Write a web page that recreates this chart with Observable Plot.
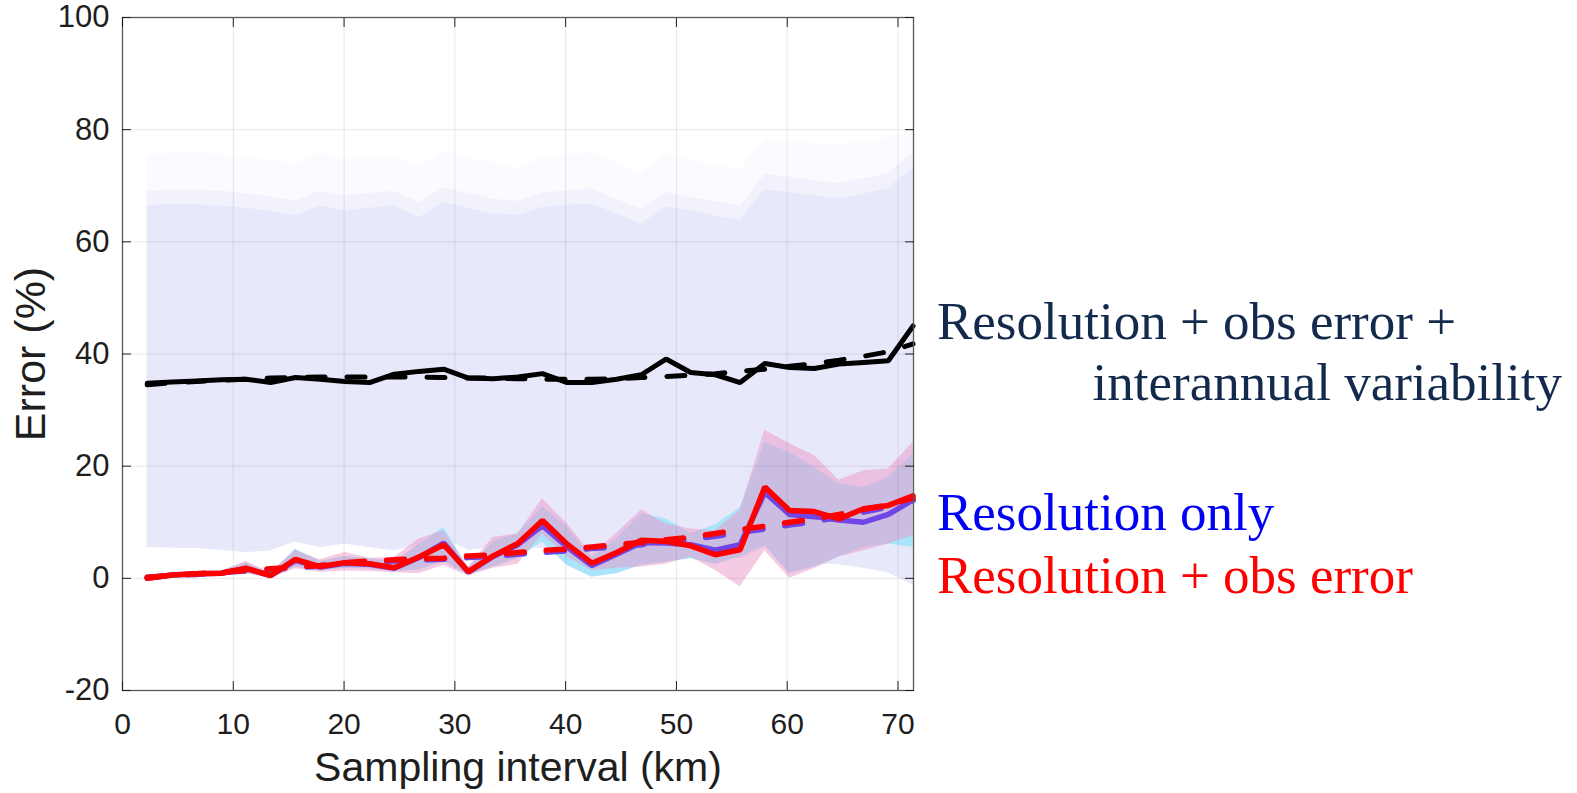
<!DOCTYPE html>
<html><head><meta charset="utf-8">
<script src="https://cdn.jsdelivr.net/npm/d3@7"></script>
<script src="https://cdn.jsdelivr.net/npm/@observablehq/plot@0.6"></script>
<style>
html,body{margin:0;padding:0;background:#fff;}
#wrap{position:relative;width:1577px;height:793px;overflow:hidden;}
.ann{position:absolute;font-family:"Liberation Serif","Times New Roman",serif;font-size:53px;line-height:1;white-space:nowrap;}
</style></head><body>
<div id="wrap"></div>
<script>
// Sampling interval (km)
const interval = [2.23, 4.46, 6.69, 8.92, 11.15, 13.38, 15.61, 17.84, 20.07, 22.3, 24.53, 26.76, 28.99, 31.22, 33.45, 35.68, 37.91, 40.14, 42.37, 44.6, 46.83, 49.06, 51.29, 53.52, 55.75, 57.98, 60.21, 62.44, 64.67, 66.9, 69.13, 71.36];

// Resolution + obs error + interannual variability (black)
const blackSolid  = [34.8, 35.0, 35.2, 35.4, 35.5, 34.9, 35.8, 35.5, 35.1, 34.9, 36.4, 36.9, 37.3, 35.7, 35.6, 35.9, 36.5, 34.9, 34.9, 35.5, 36.3, 39.1, 36.7, 36.3, 34.9, 38.3, 37.6, 37.4, 38.2, 38.5, 38.8, 45.0];
const blackDashed = [34.5, 34.9, 35.1, 35.3, 35.5, 35.7, 35.8, 35.9, 35.9, 35.9, 35.9, 35.9, 35.8, 35.7, 35.7, 35.6, 35.5, 35.5, 35.5, 35.6, 35.8, 36.0, 36.2, 36.5, 36.9, 37.3, 37.8, 38.3, 38.9, 39.6, 40.4, 41.8];
const ivLow   = [5.5, 5.4, 5.3, 5.0, 4.6, 4.9, 6.5, 5.5, 6.1, 5.5, 4.9, 5.8, 7.2, 5.0, 5.5, 5.8, 5.3, 4.0, 2.5, 3.0, 3.8, 4.0, 4.5, 4.8, 3.5, 5.5, 2.7, 2.6, 2.4, 1.8, 1.0, -1.2];
const ivMain  = [66.5, 66.6, 66.6, 66.4, 66.0, 65.4, 64.7, 66.4, 65.5, 66.0, 66.4, 64.3, 67.0, 66.0, 65.0, 64.7, 66.1, 66.5, 66.8, 65.0, 63.2, 66.2, 65.5, 64.6, 63.8, 69.3, 68.8, 68.2, 67.7, 68.5, 69.5, 73.1];
const ivMid   = [69.0, 69.2, 69.2, 69.0, 68.6, 68.0, 67.3, 69.0, 68.2, 68.6, 69.0, 67.0, 69.6, 68.6, 67.6, 67.2, 68.7, 69.1, 69.4, 67.6, 65.8, 68.8, 68.0, 67.2, 66.4, 72.0, 71.5, 70.9, 70.4, 71.2, 72.2, 75.8];
const ivOuter = [75.5, 75.8, 75.9, 75.5, 75.0, 74.5, 73.9, 75.8, 74.8, 74.9, 75.4, 73.3, 76.2, 75.0, 74.0, 73.1, 75.0, 75.5, 75.9, 74.0, 72.2, 75.6, 74.5, 73.5, 72.9, 78.3, 78.0, 77.5, 77.4, 77.8, 78.6, 79.8];

// Resolution only (blue)
const blueSolid  = [0.0, 0.6, 0.8, 0.9, 1.7, 0.5, 3.2, 2.0, 2.7, 2.5, 1.8, 3.7, 6.3, 1.1, 3.9, 6.0, 9.4, 5.6, 2.3, 4.3, 6.4, 6.3, 6.0, 5.0, 6.0, 15.3, 11.4, 11.0, 10.4, 10.0, 11.4, 14.0];
const blueDashed = [0.2, 0.5, 0.7, 1.0, 1.3, 1.6, 1.9, 2.2, 2.6, 2.9, 3.1, 3.3, 3.4, 3.7, 3.9, 4.3, 4.6, 4.9, 5.3, 5.6, 6.0, 6.5, 6.9, 7.5, 8.2, 8.8, 9.5, 10.1, 10.9, 11.8, 12.7, 13.9];
const resLo = [0.0, 0.4, 0.6, 0.7, 1.0, 0.2, 2.0, 1.3, 1.8, 1.6, 1.2, 1.5, 3.0, 0.6, 2.0, 3.5, 6.5, 2.3, 0.2, 0.8, 2.3, 2.9, 3.5, 2.5, 3.8, 5.8, 0.8, 2.0, 3.8, 5.5, 6.1, 5.5];
const resHi = [0.2, 0.8, 1.0, 1.2, 2.8, 0.8, 5.2, 3.0, 3.9, 3.5, 3.0, 6.0, 9.1, 1.8, 6.5, 8.0, 12.8, 9.1, 3.7, 7.0, 11.5, 10.6, 8.0, 9.5, 12.6, 24.2, 22.5, 19.8, 16.8, 16.2, 18.0, 22.2];

// Resolution + obs error (red)
const redSolid  = [0.0, 0.6, 0.8, 0.9, 1.8, 0.5, 3.4, 2.1, 2.8, 2.6, 1.9, 3.8, 6.0, 1.2, 4.0, 6.2, 10.3, 6.1, 2.7, 4.6, 6.8, 6.6, 5.8, 4.2, 5.1, 16.3, 12.1, 11.9, 10.6, 12.4, 13.0, 14.7];
const redDashed = [0.2, 0.5, 0.8, 1.1, 1.4, 1.7, 2.0, 2.3, 2.8, 3.1, 3.3, 3.5, 3.6, 4.0, 4.2, 4.6, 5.0, 5.2, 5.6, 6.0, 6.4, 6.9, 7.3, 8.0, 8.7, 9.3, 10.0, 10.6, 11.4, 12.3, 13.1, 14.3];
const obsLo = [-0.2, 0.3, 0.5, 0.6, 0.8, 0.0, 1.7, 1.1, 1.3, 1.2, 1.0, 0.8, 2.3, 0.4, 1.8, 2.5, 7.9, 3.8, 1.4, 1.8, 2.0, 2.5, 3.8, 1.4, -1.5, 4.9, 0.0, 1.7, 3.8, 4.9, 6.1, 7.6];
const obsHi = [0.3, 0.9, 1.1, 1.3, 3.0, 1.0, 5.0, 3.3, 4.6, 3.6, 3.7, 7.0, 8.5, 2.0, 7.3, 7.9, 14.2, 9.7, 4.3, 8.0, 12.2, 9.7, 8.8, 8.5, 12.1, 26.4, 24.0, 21.9, 17.5, 19.2, 19.5, 24.2];

const xTicks = [0, 10, 20, 30, 40, 50, 60, 70];
const yTicks = [-20, 0, 20, 40, 60, 80, 100];

const rows = interval.map((x, i) => ({
  x,
  bs: blackSolid[i], bd: blackDashed[i],
  ivLow: ivLow[i], ivMain: ivMain[i], ivMid: ivMid[i], ivOuter: ivOuter[i],
  us: blueSolid[i], ud: blueDashed[i], rLo: resLo[i], rHi: resHi[i],
  rs: redSolid[i], rd: redDashed[i], oLo: obsLo[i], oHi: obsHi[i]
}));

const dash = "18,22";
const fmt = d => String(d);
const chart = Plot.plot({
  width: 1577, height: 793,
  marginLeft: 122, marginRight: 664, marginTop: 17, marginBottom: 103,
  style: {fontFamily: "'Liberation Sans', Arial, Helvetica, sans-serif", fontSize: "30px", color: "#1e1e1e", background: "#fff"},
  x: {domain: [0, 71.4], label: null},
  y: {domain: [-20, 100], label: null},
  marks: [
    Plot.areaY(rows, {x: "x", y1: "ivLow", y2: "ivOuter", fill: "#fafaff"}),
    Plot.areaY(rows, {x: "x", y1: "ivLow", y2: "ivMid", fill: "#f2f2fd"}),
    Plot.areaY(rows, {x: "x", y1: "ivLow", y2: "ivMain", fill: "#e8e8fb"}),
    Plot.areaY(rows, {x: "x", y1: "rLo", y2: "rHi", fill: "#aae4fa"}),
    Plot.areaY(rows, {x: "x", y1: "oLo", y2: "oHi", fill: "#ec96c8", fillOpacity: 0.5}),
    Plot.lineY(rows, {x: "x", y: "bd", stroke: "#000", strokeWidth: 5, strokeDasharray: dash, strokeLinejoin: "miter"}),
    Plot.lineY(rows, {x: "x", y: "bs", stroke: "#000", strokeWidth: 5, strokeLinejoin: "miter"}),
    Plot.lineY(rows, {x: "x", y: "ud", stroke: "#6f45e6", strokeWidth: 5.5, strokeDasharray: dash, strokeLinejoin: "miter"}),
    Plot.lineY(rows, {x: "x", y: "us", stroke: "#6f45e6", strokeWidth: 5.5, strokeLinejoin: "miter"}),
    Plot.lineY(rows, {x: "x", y: "rd", stroke: "#ff0000", strokeWidth: 5.5, strokeDasharray: dash, strokeLinejoin: "miter"}),
    Plot.lineY(rows, {x: "x", y: "rs", stroke: "#ff0000", strokeWidth: 5.5, strokeLinejoin: "miter"}),
    Plot.gridX({ticks: xTicks, stroke: "#000", strokeOpacity: 0.09}),
    Plot.gridY({ticks: yTicks, stroke: "#000", strokeOpacity: 0.09}),
    Plot.frame({stroke: "#5a5a5a", strokeWidth: 1.3}),
    Plot.axisX({ticks: xTicks, tickSize: -9, tickPadding: 31, fontSize: 30, tickFormat: fmt, label: null}),
    Plot.axisY({ticks: yTicks, tickSize: -9, tickPadding: 22, fontSize: 31, tickFormat: fmt, label: null}),
    Plot.axisX({anchor: "top", ticks: xTicks, tickSize: -9, tickFormat: () => "", label: null}),
    Plot.axisY({anchor: "right", ticks: yTicks, tickSize: -9, tickFormat: () => "", label: null}),
    Plot.text(["Sampling interval (km)"], {frameAnchor: "bottom", dy: 77, textAnchor: "middle", lineAnchor: "middle", fontSize: 41, text: d => d, fill: "#1e1e1e"}),
    Plot.text(["Error (%)"], {frameAnchor: "left", dx: -91, rotate: -90, textAnchor: "middle", lineAnchor: "middle", fontSize: 43, text: d => d, fill: "#1e1e1e"})
  ]
});
const wrap = document.getElementById("wrap");
wrap.appendChild(chart);

const annotations = [
  {text: "Resolution + obs error +", color: "#142a4c", left: 937, top: 295},
  {text: "interannual variability", color: "#142a4c", right: 15, top: 356},
  {text: "Resolution only", color: "#0000f5", left: 937, top: 486},
  {text: "Resolution + obs error", color: "#ff0000", left: 937, top: 549}
];
for (const a of annotations) {
  const d = document.createElement("div");
  d.className = "ann";
  d.textContent = a.text;
  d.style.color = a.color;
  d.style.top = a.top + "px";
  if (a.left != null) d.style.left = a.left + "px"; else d.style.right = a.right + "px";
  wrap.appendChild(d);
}
</script>
</body></html>
